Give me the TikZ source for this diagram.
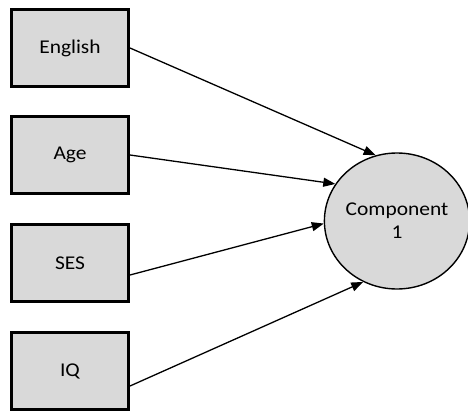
\documentclass[tikz,border=0pt]{standalone}
\usepackage{fontspec}
\setmainfont{Carlito}[FakeStretch=1.1]
\usetikzlibrary{shapes.geometric,arrows.meta}
\definecolor{boxgray}{HTML}{D9D9D9}
\tikzset{
  varbox/.style={draw, line width=3pt, fill=boxgray, minimum width=117pt,
    minimum height=77pt, inner sep=0pt, font=\fontsize{19.5pt}{23pt}\selectfont},
  compnode/.style={ellipse, draw, line width=1.4pt, fill=boxgray, minimum width=139pt,
    minimum height=136pt, inner sep=0pt, align=center,
    font=\fontsize{19.5pt}{23pt}\selectfont},
  conn/.style={line width=1.3pt, -{Triangle[length=12pt,width=9pt]}}
}
\begin{document}
\begin{tikzpicture}[x=1pt,y=-1pt]
  \useasboundingbox (0,0) rectangle (468,412);
  % predictor boxes
  \node[varbox] (english) at (70,48)  {English};
  \node[varbox] (age)     at (70,155) {Age};
  \node[varbox] (ses)     at (70,263) {SES};
  \node[varbox] (iq)      at (70,371) {IQ};
  % component
  \node[compnode] (comp) at (397,221) {Component\\1};
  % loadings
  \draw[conn] (english.east) -- (comp.108);
  \draw[conn] (age.east) -- (comp.149);
  \draw[conn] ([yshift=-12pt]ses.east) -- (comp.182);
  \draw[conn] ([yshift=-15pt]iq.east) -- (comp.241);
\end{tikzpicture}
\end{document}
